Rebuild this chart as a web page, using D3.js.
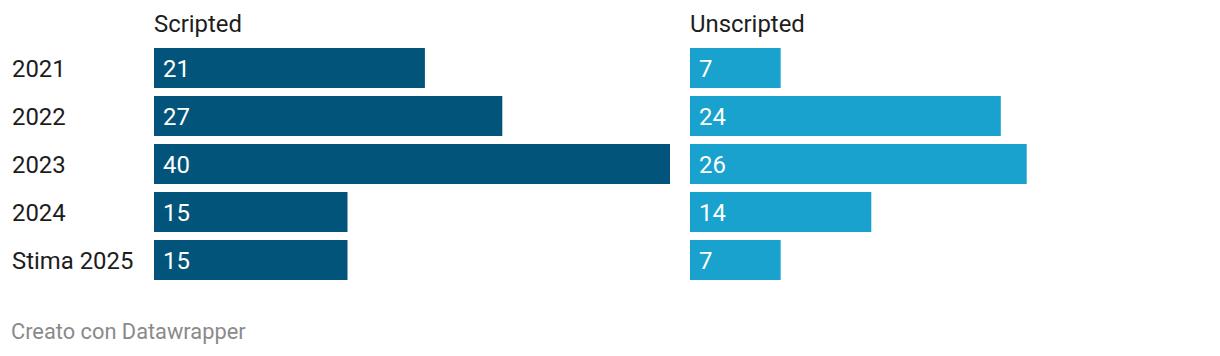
<!DOCTYPE html>
<html><head><meta charset="utf-8">
<script src="https://cdn.jsdelivr.net/npm/d3@7"></script>
<style>
html,body{margin:0;padding:0;background:#fff;}
svg{display:block;font-family:Roboto,sans-serif;}
</style></head><body>
<svg id="c" width="1220" height="356"></svg>
<script>
const categories = ["2021","2022","2023","2024","Stima 2025"];
const scripted = [21,27,40,15,15];
const unscripted = [7,24,26,14,7];
const seriesNames = ["Scripted","Unscripted"];
const colors = ["#03547a","#18a2cd"];

const svg = d3.select("#c");
const yPos = d3.scaleOrdinal().domain(categories).range(categories.map((d,i)=>48+i*48));
const barH = 40;
const xL = d3.scaleLinear().domain([0,40]).range([0,516]);
const xR = d3.scaleLinear().domain([0,40]).range([0,518]);
const panels = [{x0:154,data:scripted,x:xL},{x0:690,data:unscripted,x:xR}];
const fs = 23.9;

svg.append("g").selectAll("text").data(categories).join("text")
  .attr("x",12).attr("y",d=>yPos(d)+barH/2).attr("dy","0.36em")
  .attr("fill","#1d1d1d").attr("font-size",fs).text(d=>d);

panels.forEach((p,pi)=>{
  const g = svg.append("g").attr("transform",`translate(${p.x0},0)`);
  g.append("text").attr("x",0).attr("y",32).attr("fill","#1d1d1d").attr("font-size",fs).text(seriesNames[pi]);
  g.selectAll("rect").data(p.data).join("rect")
    .attr("x",0).attr("y",(d,i)=>yPos(categories[i]))
    .attr("width",d=>p.x(d)).attr("height",barH).attr("fill",colors[pi]);
  g.selectAll("text.v").data(p.data).join("text").attr("class","v")
    .attr("x",9).attr("y",(d,i)=>yPos(categories[i])+barH/2).attr("dy","0.36em")
    .attr("fill","#fff").attr("font-size",fs).text(d=>d);
});

svg.append("text").attr("x",11).attr("y",339).attr("fill","#8a8a8a").attr("font-size",21.8).text("Creato con Datawrapper");
</script>
</body></html>
